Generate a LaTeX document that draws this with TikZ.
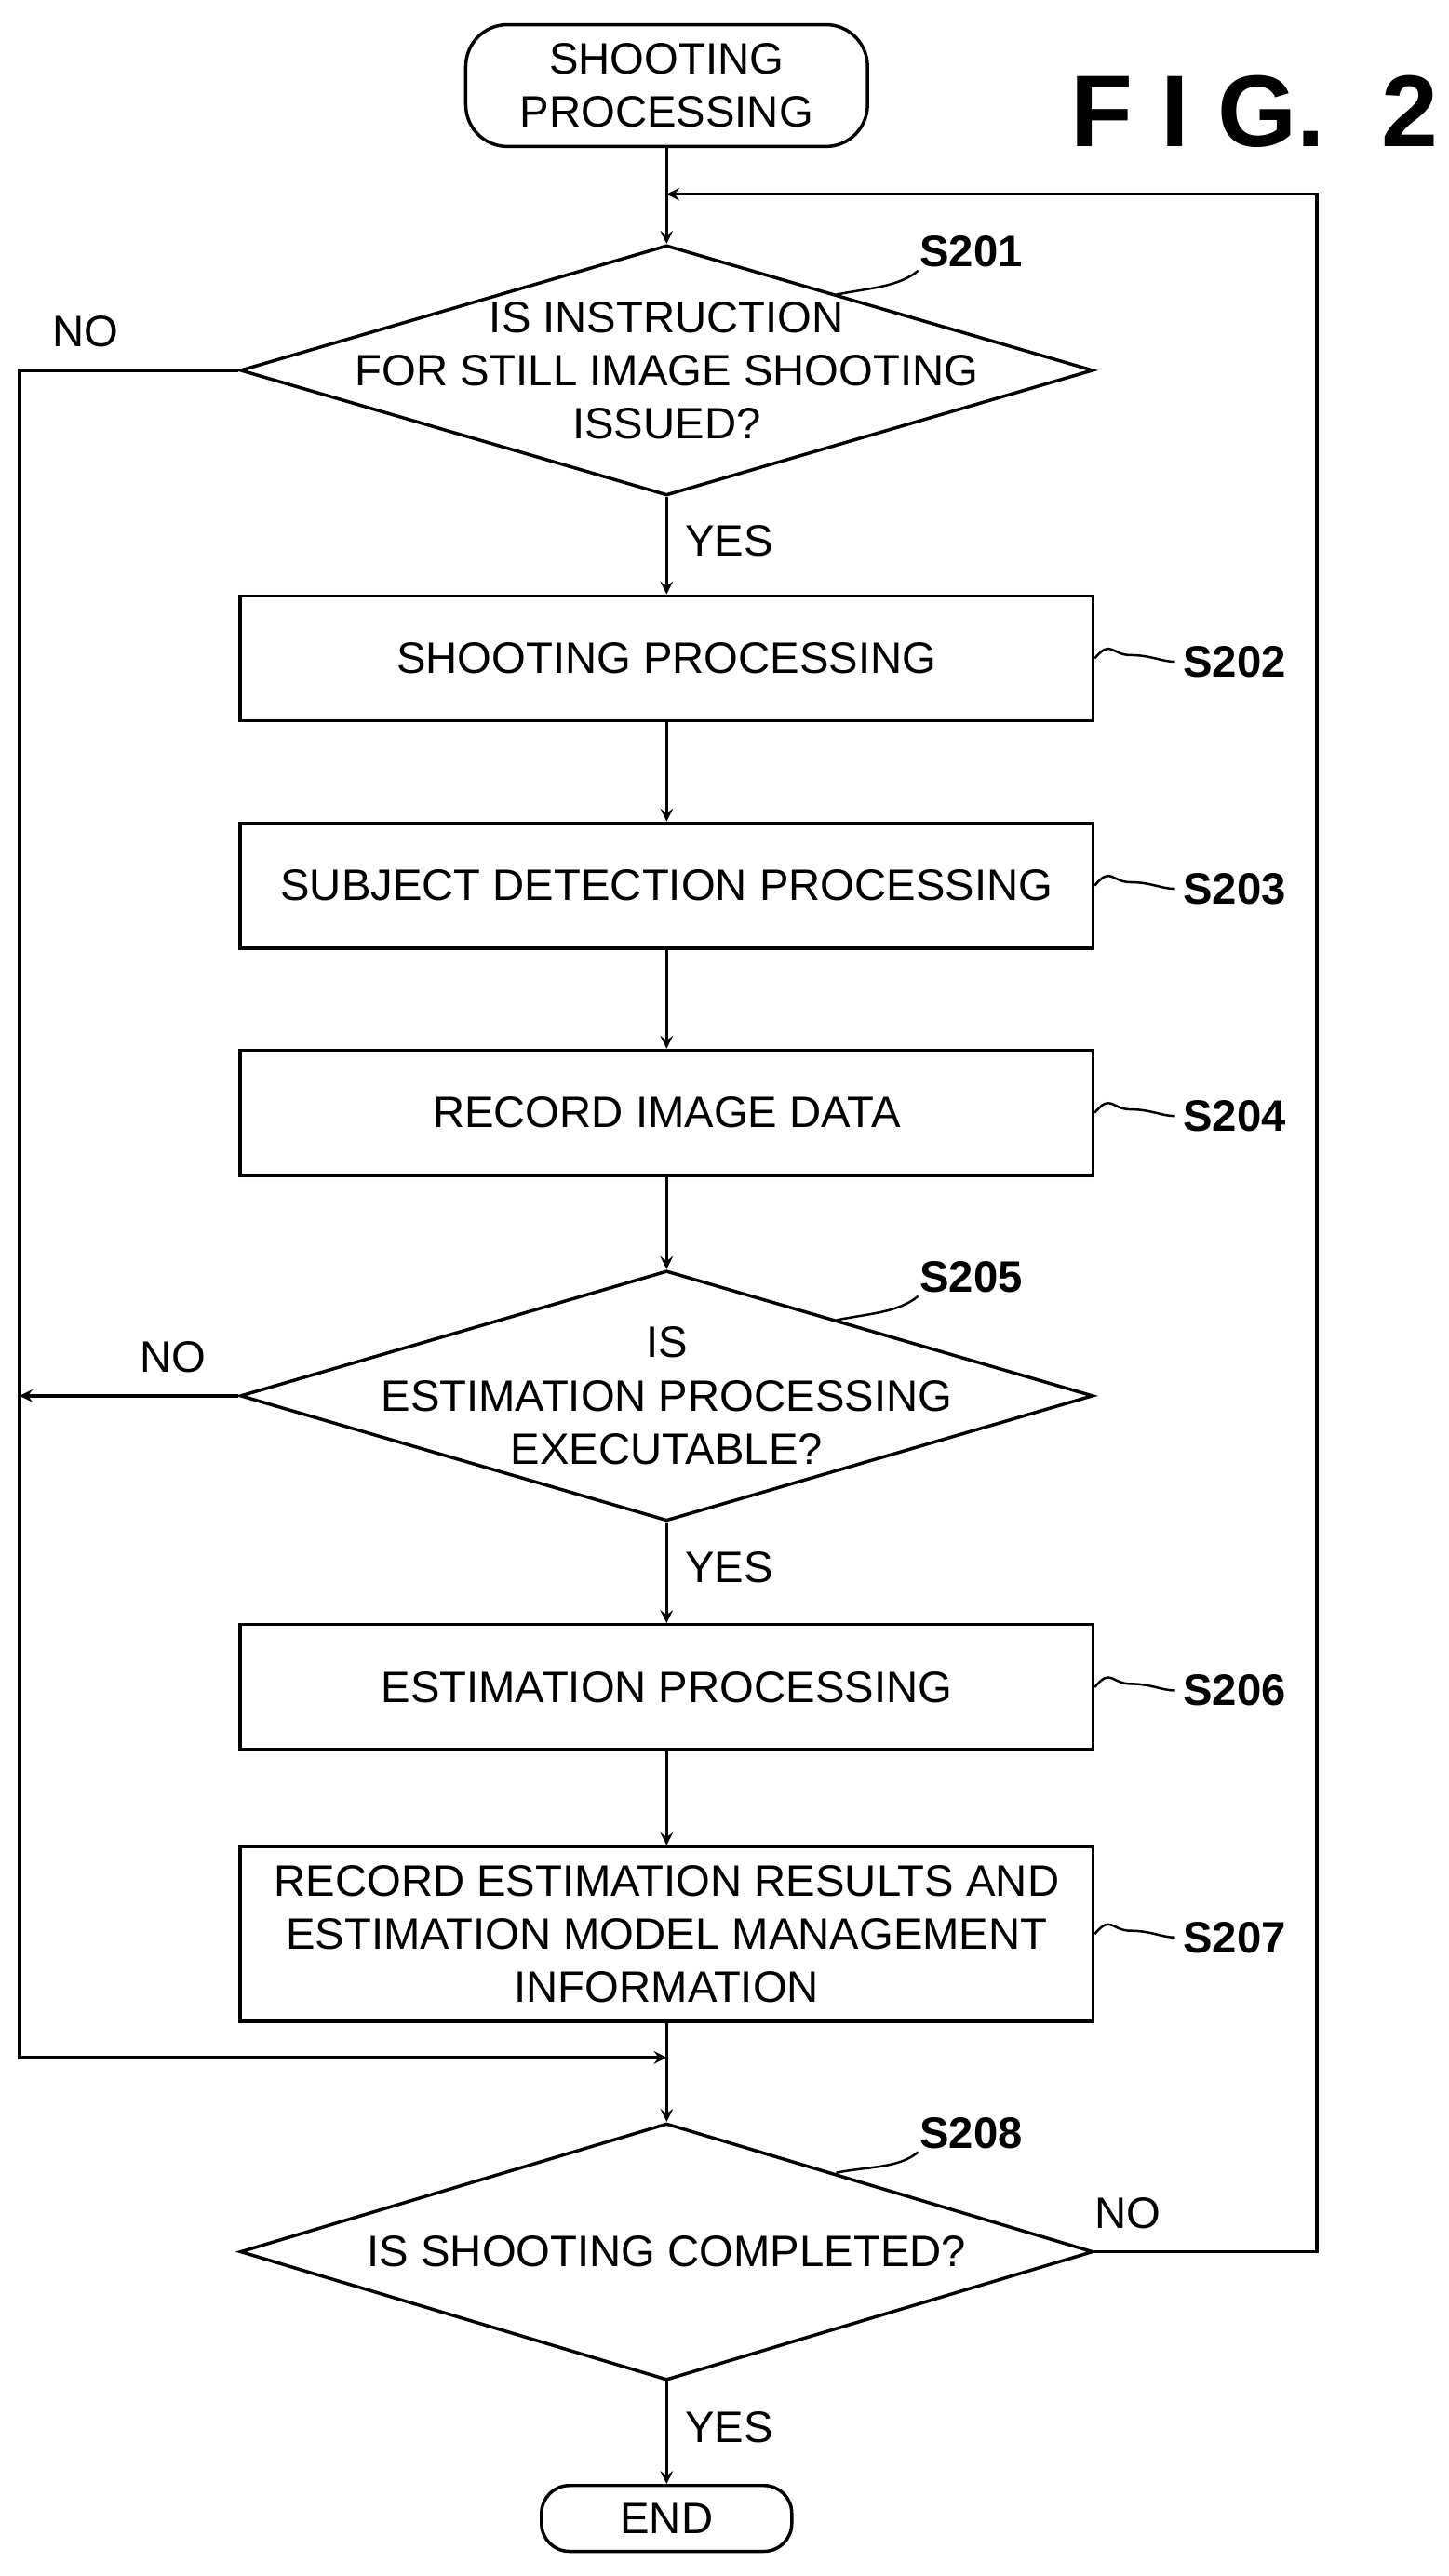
\documentclass[tikz,border=0pt]{standalone}
\usepackage{fontspec}
\setmainfont{Liberation Sans}
\usetikzlibrary{shapes.geometric}
\usetikzlibrary{positioning}
\tikzstyle{startstop} = [rectangle, rounded corners=18pt, minimum width=6.1cm, minimum height=1.85cm, text centered, align=center, draw=black, line width=1.4pt]
\tikzstyle{process} = [rectangle, minimum width=12.95cm, minimum height=1.9cm, text centered, align=center, draw=black, line width=1.4pt]
\tikzstyle{condition} = [diamond, minimum width=12.95cm, minimum height=3.8cm, inner sep=0pt, draw=black, line width=1.4pt]
\tikzstyle{arrow} = [line width=1.4pt,->,>=stealth]
\tikzstyle{steplabel} = [font=\fontsize{19}{23}\selectfont\bfseries]
\tikzstyle{lead} = [line width=1pt]

\begin{document}
\begin{tikzpicture}[x=0.025cm, y=-0.025cm, font=\fontsize{19}{23}\selectfont]
    \useasboundingbox (0,0) rectangle (880,1565);

        \node (start) [startstop] at (405,52) {SHOOTING\\PROCESSING};
        \node [font=\fontsize{44}{50}\selectfont\bfseries] at (762,68) {F I G.\ \ 2};
        \node (s201) [condition, label={[align=center]center:IS INSTRUCTION\\FOR STILL IMAGE SHOOTING\\ISSUED?}] at (405,225) {};
        \node (s202) [process] at (405,400) {SHOOTING PROCESSING};
        \node (s203) [process] at (405,538) {SUBJECT DETECTION PROCESSING};
        \node (s204) [process] at (405,676) {RECORD IMAGE DATA};
        \node (s205) [condition, label={[align=center]center:IS\\ESTIMATION PROCESSING\\EXECUTABLE?}] at (405,848) {};
        \node (s206) [process] at (405,1025) {ESTIMATION PROCESSING};
        \node (s207) [process, minimum height=2.65cm] at (405,1175) {RECORD ESTIMATION RESULTS AND\\ESTIMATION MODEL MANAGEMENT\\INFORMATION};
        \node (s208) [condition, minimum height=3.9cm, label=center:IS SHOOTING COMPLETED?] at (405,1368) {};
        \node (stop) [startstop, rounded corners=12pt, minimum width=3.8cm, minimum height=1cm] at (405,1530) {END};

        \coordinate (loop) at (405,118);
        \coordinate (join) at (405,1250);

        % step labels
        \node (l201) [steplabel] at (590,153) {S201};
        \node (l202) [steplabel] at (750,402) {S202};
        \node (l203) [steplabel] at (750,540) {S203};
        \node (l204) [steplabel] at (750,678) {S204};
        \node (l205) [steplabel] at (590,776) {S205};
        \node (l206) [steplabel] at (750,1027) {S206};
        \node (l207) [steplabel] at (750,1177) {S207};
        \node (l208) [steplabel] at (590,1296) {S208};
        \foreach \n in {202,203,204,206,207}
            \draw [lead] (s\n.east) .. controls +(10,-12) and +(-12,0) .. ++(22,-2) .. controls +(12,0) and +(-8,0) .. (l\n.west);
        \foreach \n in {201,205,208}
            \draw [lead] ([shift={(103,31)}]s\n.north) .. controls +(20,-4) and +(-12,10) .. ([shift={(4,-3)}]l\n.south west);

        \draw [arrow] (start) -- (s201);
        \draw [arrow] (s201) -- node[right=4pt, pos=0.45] {YES} (s202);
        \draw [arrow] (s202) -- (s203);
        \draw [arrow] (s203) -- (s204);
        \draw [arrow] (s204) -- (s205);
        \draw [arrow] (s205) -- node[right=4pt, pos=0.45] {YES} (s206);
        \draw [arrow] (s206) -- (s207);
        \draw [arrow] (s207) -- (s208);
        \draw [arrow] (s208) -- node[right=4pt, pos=0.45] {YES} (stop);
        \draw [arrow] (s201.west) -- node[above=6pt, pos=0.7] {NO} (12,225) |- (join);
        \draw [arrow] (s205.west) -- node[above=6pt, pos=0.3] {NO} (12,848);
        \draw [arrow] (s208.east) -- node[above=6pt, pos=0.15] {NO} (800,1368) |- (loop);

    \end{tikzpicture}
\end{document}
